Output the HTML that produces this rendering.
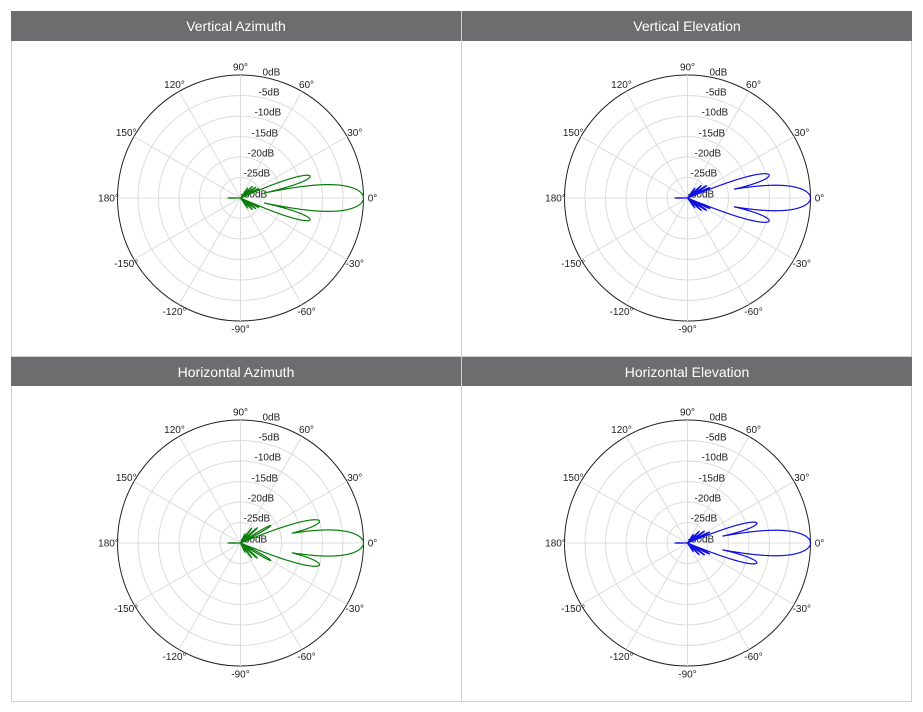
<!DOCTYPE html>
<html><head><meta charset="utf-8"><style>
html,body{margin:0;padding:0;background:#fff;}
svg{display:block;font-family:"Liberation Sans",sans-serif;}
</style></head><body>
<svg id="s" width="923" height="712" viewBox="0 0 923 712" xmlns="http://www.w3.org/2000/svg">
<rect x="0" y="0" width="923" height="712" fill="#fff"/>
<rect x="11.5" y="11.5" width="900" height="690" fill="none" stroke="#cfcfcf"/>
<line x1="461.5" y1="11" x2="461.5" y2="701" stroke="#cfcfcf"/>
<line x1="11" y1="356.5" x2="912" y2="356.5" stroke="#cfcfcf"/>
<rect x="11" y="11" width="450" height="30" fill="#6d6d70"/>
<rect x="462" y="11" width="450" height="30" fill="#6d6d70"/>
<rect x="11" y="357" width="450" height="29" fill="#6d6d70"/>
<rect x="462" y="357" width="450" height="29" fill="#6d6d70"/>
<g fill="#fff" font-size="14" text-anchor="middle">
<text x="236" y="31">Vertical Azimuth</text>
<text x="687" y="31">Vertical Elevation</text>
<text x="236" y="377">Horizontal Azimuth</text>
<text x="687" y="377">Horizontal Elevation</text>
</g>
<g id="plots"></g>
</svg>
<script>
var g=document.getElementById('plots');var NS='http://www.w3.org/2000/svg';
function el(t,a,txt){var e=document.createElementNS(NS,t);for(var k in a)e.setAttribute(k,a[k]);if(txt!=null)e.textContent=txt;g.appendChild(e);return e;}
var R=123;
function plot(cx,cy,color,lobes){
  for(var i=1;i<=6;i++){el('circle',{cx:cx,cy:cy,r:(R*i/6).toFixed(2),fill:'none',stroke:i==6?'#222':'#dcdcdc','stroke-width':1});}
  for(var a=0;a<180;a+=30){var t=a*Math.PI/180;el('line',{x1:cx-R*Math.cos(t),y1:cy+R*Math.sin(t),x2:cx+R*Math.cos(t),y2:cy-R*Math.sin(t),stroke:'#dcdcdc'});}
  var labs=[[0,'0°'],[30,'30°'],[60,'60°'],[90,'90°'],[120,'120°'],[150,'150°'],[180,'180°'],[-150,'-150°'],[-120,'-120°'],[-90,'-90°'],[-60,'-60°'],[-30,'-30°']];
  labs.forEach(function(l){var t=l[0]*Math.PI/180;el('text',{x:cx+132*Math.cos(t),y:cy-131*Math.sin(t)+3.5,'font-size':10,fill:'#222','text-anchor':'middle'},l[1]);});
  var db=[['0dB',22,-126],['-5dB',18,-106],['-10dB',14,-86],['-15dB',11,-65],['-20dB',7,-45],['-25dB',3,-25],['-30dB',0,-4]];
  db.forEach(function(d){el('text',{x:cx+d[1],y:cy+d[2]+3.5,'font-size':10,fill:'#222'},d[0]);});
  var pts=[];
  for(var k=0;k<=7200;k++){
    var deg=-180+k*0.05,th=deg*Math.PI/180,best=-60;
    lobes.forEach(function(L){var dd=deg-L[0];if(dd>180)dd-=360;if(dd<-180)dd+=360;var u=Math.abs(dd)/L[2];if(u<1){var s=u<1e-6?1:Math.sin(Math.PI*u)/(Math.PI*u);var v=L[1]+20*Math.log10(Math.max(s,1e-6));if(v>best)best=v;}});
    var r=Math.max(0,(best+30)/30)*R;
    pts.push((cx+r*Math.cos(th)).toFixed(2)+','+(cy-r*Math.sin(th)).toFixed(2));
  }
  el('path',{d:'M'+pts.join('L')+'Z',fill:'none',stroke:color,'stroke-width':1.2});
}
function sym(main,list){var L=[[0,0,main],[180,-27,3]];list.forEach(function(s){L.push([s[0],s[1],s[2]]);L.push([-s[0],s[1],s[2]]);});return L;}
plot(240.5,198,'#0a7d0a',sym(12.6,[[17.4,-12.2,7],[27,-25,4.5],[35,-25.5,4.5],[44,-26,4.5],[54,-27,4.5]]));
plot(687.5,198,'#1010e0',sym(12,[[15.7,-9.3,7],[25,-24,4.5],[33,-24.5,4.5],[42,-25.5,4.5],[53,-27,4.5]]));
plot(240.5,543,'#0a7d0a',sym(12.3,[[15.5,-10,7.2],[30,-21.5,5],[42,-24.5,4.5],[53,-25.5,4.5],[64,-27.5,4.5]]));
plot(687.5,543,'#1010e0',sym(12,[[16,-12.4,7],[26,-24,4.5],[35,-25,4.5],[45,-26,4.5],[56,-27.5,4.5]]));
</script>
</body></html>
